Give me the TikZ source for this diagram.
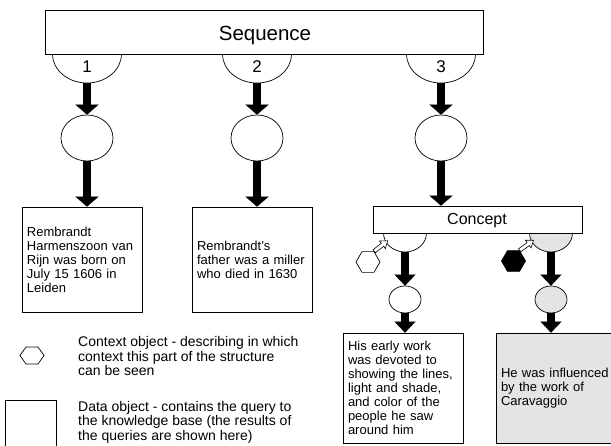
\documentclass[tikz,border=0pt]{standalone}
\usepackage{fontspec}
\setmainfont{Liberation Sans}
\usetikzlibrary{shapes.geometric,arrows.meta}
\definecolor{lgray}{HTML}{E4E4E4}
\tikzset{
  outl/.style={draw=black, line width=0.7pt},
  bigarrow/.style={line width=7.5pt, -{Triangle[length=10pt, width=23pt, line width=0.1pt]}},
  smallarrow/.style={line width=8pt, -{Triangle[length=11pt, width=21pt, line width=0.1pt]}},
  hollowshape/.style={draw=black, fill=white, line width=0.6pt, line join=miter},
  databox/.style={outl, rectangle, fill=white, text width=110pt, inner sep=5pt, align=left, font=\fontsize{13}{14}\selectfont},
  qcircle/.style={outl, ellipse, inner sep=0pt, fill=white},
  hexa/.style={outl, regular polygon, regular polygon sides=6, minimum size=24pt, inner sep=0pt},
  leg/.style={anchor=west, align=left, font=\fontsize{14}{14.5}\selectfont, inner sep=0pt},
  numtext/.style={font=\fontsize{17}{17}\selectfont, inner sep=0pt},
}
\begin{document}
\begin{tikzpicture}[x=1pt,y=-1pt]
\useasboundingbox (0,0) rectangle (611,446);
% semicircles under Sequence
\draw[outl, fill=white] (52.5,54) arc[start angle=180, end angle=0, x radius=34.5, y radius=29];
\draw[outl, fill=white] (222.5,54) arc[start angle=180, end angle=0, x radius=34.5, y radius=29];
\draw[outl, fill=white] (406.5,54) arc[start angle=180, end angle=0, x radius=34.5, y radius=29];
\node[outl, rectangle, fill=white, minimum width=438pt, minimum height=44pt, inner sep=0pt] (seq) at (264,32) {};
\node[font=\fontsize{20.5}{20.5}\selectfont, inner sep=0pt] (seqtext) at (265,35) {Sequence};
\node[numtext] (n1) at (87,67) {1};
\node[numtext] (n2) at (257,67) {2};
\node[numtext] (n3) at (441,67) {3};
\coordinate (s1) at (87,83);
\coordinate (s2) at (257,83);
\coordinate (s3) at (441,83);
% circles
\node[qcircle, minimum width=52pt, minimum height=46pt] (c1) at (87,138) {};
\node[qcircle, minimum width=52pt, minimum height=46pt] (c2) at (257,138) {};
\node[qcircle, minimum width=52pt, minimum height=46pt] (c3) at (441,138) {};
\draw[bigarrow] (s1) -- (c1.north);
\draw[bigarrow] (s2) -- (c2.north);
\draw[bigarrow] (s3) -- (c3.north);
% data boxes
\node[databox, minimum height=105pt] (b1) at (82,259.5) {Rembrandt\\Harmenszoon van\\Rijn was born on\\July 15 1606 in\\Leiden};
\node[databox, minimum height=105pt] (b2) at (252,259.5) {Rembrandt's\\father was a miller\\who died in 1630};
\draw[bigarrow] (c1.south) -- (c1.south |- b1.north);
\draw[bigarrow] (c2.south) -- (c2.south |- b2.north);
% concept
\fill[white] (383.5,233) arc[start angle=180, end angle=0, x radius=21.5, y radius=19] -- cycle;
\draw[outl] (383.5,233) arc[start angle=180, end angle=0, x radius=21.5, y radius=19];
\fill[lgray] (529.5,233) arc[start angle=180, end angle=0, x radius=21.5, y radius=19] -- cycle;
\draw[outl] (529.5,233) arc[start angle=180, end angle=0, x radius=21.5, y radius=19];
\node[outl, rectangle, fill=white, minimum width=209pt, minimum height=27pt, inner sep=0pt] (con) at (477.5,219.5) {};
\node[font=\fontsize{16}{16}\selectfont, inner sep=0pt] (context) at (477,221) {Concept};
\draw[bigarrow] (c3.south) -- (c3.south |- con.north);
\coordinate (sl) at (405,252);
\coordinate (sr) at (551,252);
\node[hexa, fill=white] (hl) at (368,262) {};
\node[hexa, fill=black] (hr) at (513.5,261) {};
% hollow arrows from the context hexagons to the concept slots
\begin{scope}[shift={(hl.60)}, rotate=38]
  \draw[hollowshape] (0pt,1.9pt) -- (10.5pt,1.9pt) -- (10.5pt,4.8pt) -- (17pt,0pt) -- (10.5pt,-4.8pt) -- (10.5pt,-1.9pt) -- (0pt,-1.9pt) -- cycle;
\end{scope}
\begin{scope}[shift={(hr.60)}, rotate=36]
  \draw[hollowshape] (0pt,1.9pt) -- (10.5pt,1.9pt) -- (10.5pt,4.8pt) -- (17pt,0pt) -- (10.5pt,-4.8pt) -- (10.5pt,-1.9pt) -- (0pt,-1.9pt) -- cycle;
\end{scope}
\node[qcircle, minimum width=32pt, minimum height=27pt] (cl) at (405,299.5) {};
\node[qcircle, fill=lgray, minimum width=32pt, minimum height=27pt] (cr) at (551,299.5) {};
\draw[smallarrow] (sl) -- (cl.north);
\draw[smallarrow] (sr) -- (cr.north);
\node[databox, minimum height=110pt] (b3) at (403,388) {His early work\\was devoted to\\showing the lines,\\light and shade,\\and color of the\\people he saw\\around him};
\node[databox, fill=lgray, minimum height=110pt] (b4) at (556,388) {He was influenced\\by the work of\\Caravaggio};
\draw[smallarrow] (cl.south) -- (cl.south |- b3.north);
\draw[smallarrow] (cr.south) -- (cr.south |- b4.north);
% legend
\draw[outl] (20,355.5) -- (26,347) -- (38,347) -- (44,355.5) -- (38,364) -- (26,364) -- cycle;
\node[leg] (lt1) at (78,356) {Context object - describing in which\\context this part of the structure\\can be seen};
\draw[outl] (5,400) rectangle (56,452);
\node[leg] (lt2) at (78,422) {Data object - contains the query to\\the knowledge base (the results of\\the queries are shown here)};
\end{tikzpicture}
\end{document}
